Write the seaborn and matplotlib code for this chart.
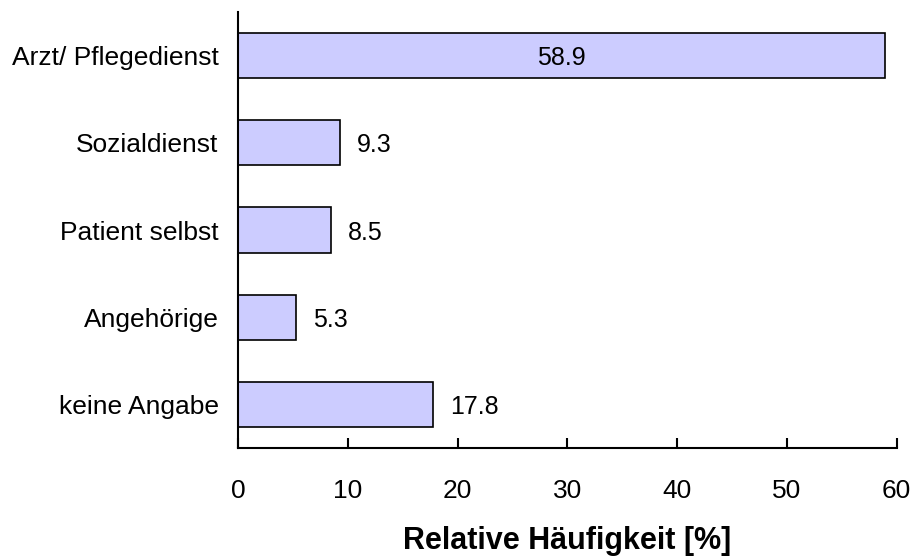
import matplotlib
matplotlib.use("Agg")
import matplotlib.pyplot as plt
import seaborn as sns
import pandas as pd

categories = ["Arzt/ Pflegedienst", "Sozialdienst", "Patient selbst", "Angehörige", "keine Angabe"]
values = [58.9, 9.3, 8.5, 5.3, 17.8]
x_ticks = [0, 10, 20, 30, 40, 50, 60]

sns.set_theme(style="white")
plt.rcParams['font.family'] = ['Liberation Sans', 'DejaVu Sans']
plt.rcParams['text.color'] = 'black'
plt.rcParams['axes.labelcolor'] = 'black'

df = pd.DataFrame({"cat": categories, "val": values})

fig = plt.figure(figsize=(9.14, 5.56), dpi=100)
ax = fig.add_axes([0.2604, 0.194, 0.7206, 0.7846])

sns.barplot(data=df, y="cat", x="val", orient="h", color="#CCCCFF",
            edgecolor="black", linewidth=1.2, width=0.52, saturation=1, ax=ax)

for c in ax.containers:
    for i, (rect, v) in enumerate(zip(c, values)):
        y = rect.get_y() + rect.get_height() / 2
        if i == 0:
            ax.text(rect.get_width() / 2, y + 0.03, f"{v:.1f}", ha="center", va="center",
                    fontsize=18, color="black")
        else:
            ax.annotate(f"{v:.1f}", (rect.get_width(), y + 0.03), xytext=(12, 0),
                        textcoords="offset points", ha="left", va="center",
                        fontsize=18, color="black")

ax.set_xlim(0, 60)
ax.set_xticks(x_ticks)
ax.set_xticklabels([str(t) for t in x_ticks])
ax.set_ylabel("")
ax.set_xlabel("Relative Häufigkeit [%]", fontsize=22, fontweight="bold",
              labelpad=17, color="black")

for s in ["top", "right"]:
    ax.spines[s].set_visible(False)
for s in ["left", "bottom"]:
    ax.spines[s].set_visible(True)
    ax.spines[s].set_color("black")
    ax.spines[s].set_linewidth(1.5)

ax.tick_params(axis="x", direction="in", length=7, width=1.5, color="black",
               labelsize=19, pad=22, bottom=True, labelcolor="black")
ax.tick_params(axis="y", length=0, labelsize=19, pad=14, labelcolor="black")
ax.grid(False)

fig.savefig("out.png", dpi=100)
